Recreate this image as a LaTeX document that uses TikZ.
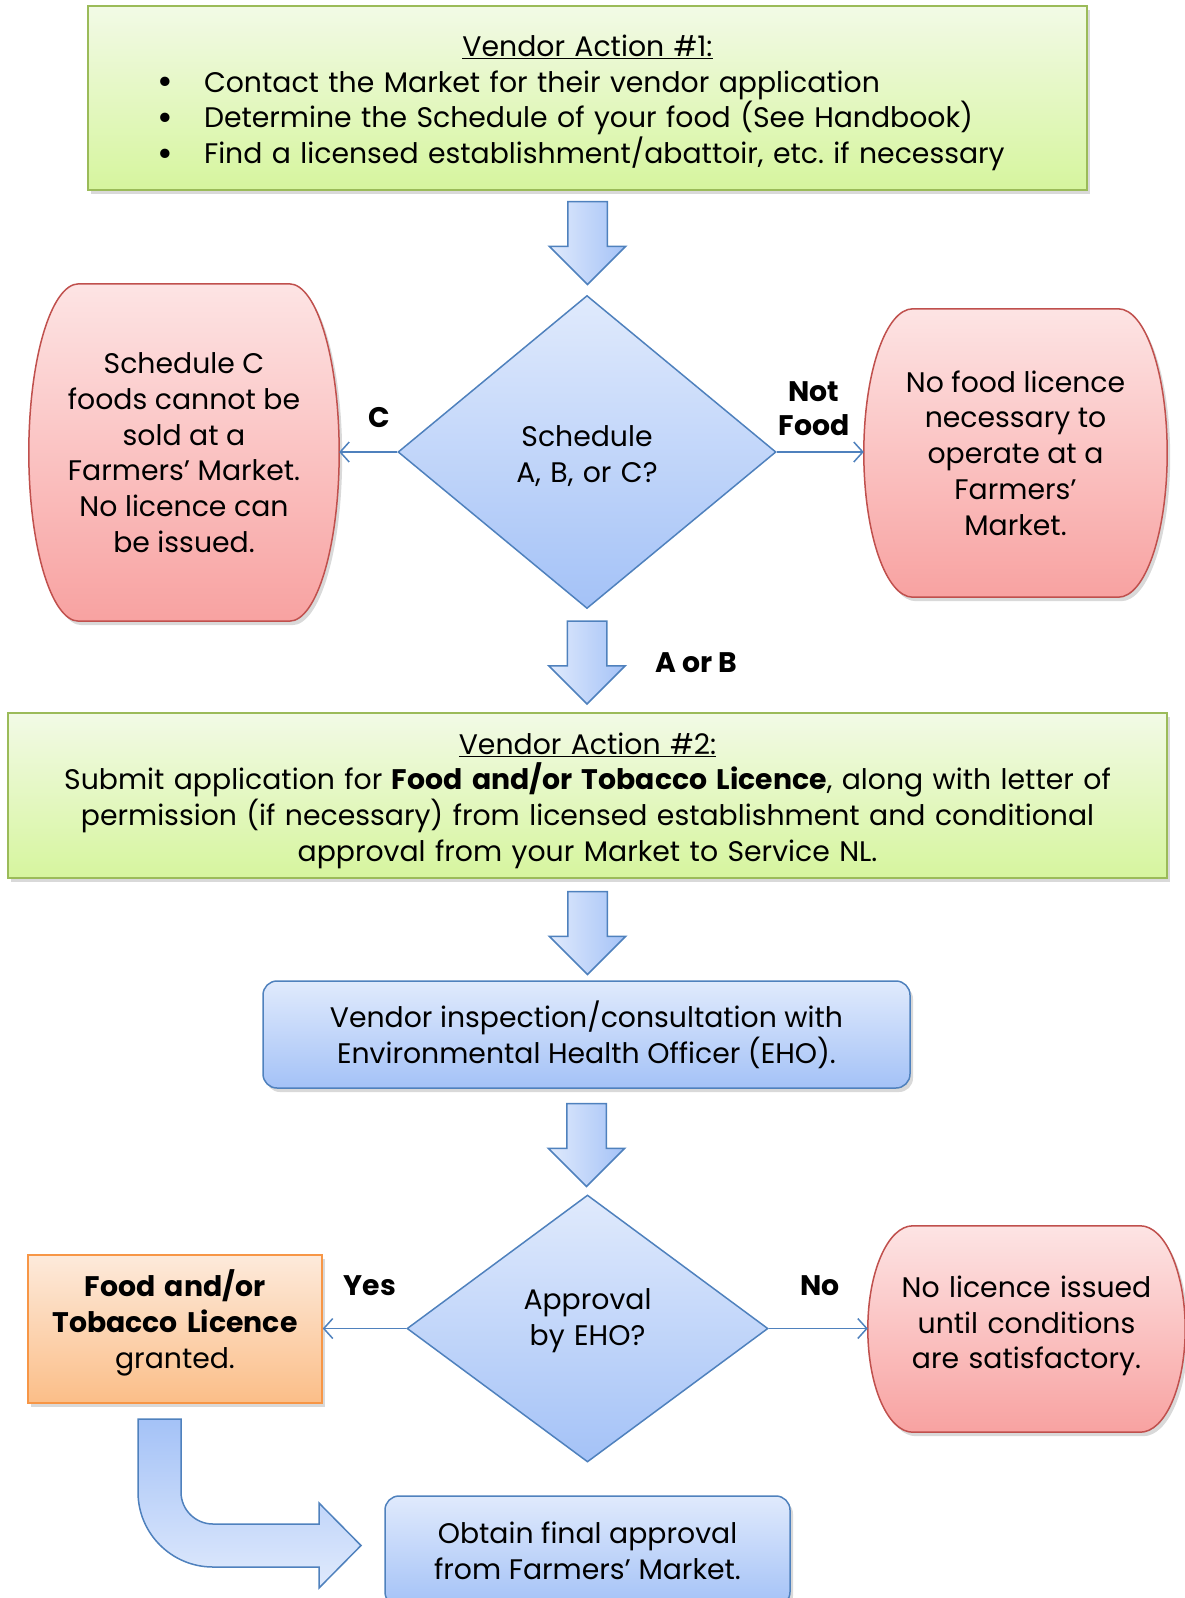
\documentclass[tikz,border=0pt]{standalone}
\usepackage{fontspec}
\setmainfont{Poppins}
\usetikzlibrary{shapes.geometric,shapes.arrows,arrows.meta,calc,shadows,backgrounds}
\definecolor{greenline}{HTML}{9BBB59}
\definecolor{greentop}{HTML}{F2FAE6}
\definecolor{greenbot}{HTML}{D6F59E}
\definecolor{blueline}{HTML}{4F81BD}
\definecolor{bluetop}{HTML}{E0EAFC}
\definecolor{bluebot}{HTML}{A4C2F7}
\definecolor{redline}{HTML}{C0504D}
\definecolor{redtop}{HTML}{FDE4E4}
\definecolor{redbot}{HTML}{F8A2A1}
\definecolor{orangeline}{HTML}{F79646}
\definecolor{orangetop}{HTML}{FDEADB}
\definecolor{orangebot}{HTML}{FBBE88}
\setlength{\lineskiplimit}{-20pt}
\newcommand\vendoritem{\makebox[47pt][l]{\raisebox{-2.5pt}{\fontsize{38}{38}\selectfont\textbullet}}}

\begin{document}
\begin{tikzpicture}[x=1pt,y=-1pt,
		every node/.style={font=\fontsize{28.3}{35.7}\selectfont,align=center,inner sep=0pt},
		softshadow/.style={drop shadow={shadow xshift=3pt,shadow yshift=-4pt,opacity=0.3}},
		action/.style={rectangle,draw=greenline,line width=1.5pt,top color=greentop,bottom color=greenbot,softshadow},
		decision/.style={diamond,draw=blueline,line width=1.5pt,top color=bluetop,bottom color=bluebot},
		process/.style={rectangle,rounded corners=14pt,draw=blueline,line width=1.5pt,top color=bluetop,bottom color=bluebot,softshadow},
		granted/.style={rectangle,draw=orangeline,line width=1.5pt,top color=orangetop,bottom color=orangebot,softshadow},
		nogo/.style={rectangle},
		nogoshape/.style={draw=redline,line width=1.5pt,top color=redtop,bottom color=redbot,softshadow},
		blockarrow/.style={single arrow,rotate=-90,anchor=tail,draw=blueline,line width=1.5pt,left color=bluetop,right color=bluebot,minimum height=83pt,minimum width=75pt,inner xsep=0pt,inner ysep=19pt,single arrow head extend=18.5pt},
		branch/.style={draw=blueline,line width=1.5pt,-{Straight Barb[length=9pt,width=20pt]}},
		choice/.style={font=\fontsize{28.3}{34}\selectfont\bfseries}]
	\useasboundingbox (0,0) rectangle (1185,1598);
	\node[action,minimum width=999pt,minimum height=184pt,text width=861pt,align=left] (va1) at (587.5,98) {\centerline{\underline{Vendor Action \#1:}}
		\noindent\vendoritem Contact the Market for their vendor application\\
		\vendoritem Determine the Schedule of your food (See Handbook)\\
		\vendoritem Find a licensed establishment/abattoir, etc.\ if necessary\vspace*{-10pt}};
	\node[decision,minimum width=378pt,minimum height=313pt,aspect=1.21,text width=200pt] (sched) at (587,452) {Schedule\\A, B, or C?\vspace*{-8pt}};
	\node[nogo,minimum width=310pt,minimum height=337pt] (schedc) at (184,452.5) {Schedule C\\foods cannot be\\sold at a\\Farmers’ Market.\\No licence can\\be issued.};
	\node[nogo,minimum width=303pt,minimum height=288pt] (nofood) at (1015.5,453) {No food licence\\necessary to\\operate at a\\Farmers’\\Market.};
	\node[action,minimum width=1159pt,minimum height=165pt,text width=1100pt] (va2) at (587.5,795.5) {\underline{Vendor Action \#2:}\\
		Submit application for \textbf{Food and/or Tobacco Licence}, along with letter of\\
		permission (if necessary) from licensed establishment and conditional\\
		approval from your Market to Service NL.\vspace*{-10pt}};
	\node[process,minimum width=647pt,minimum height=107pt] (insp) at (586.5,1034.5) {Vendor inspection/consultation with\\Environmental Health Officer (EHO).};
	\node[decision,minimum width=361pt,minimum height=267pt,aspect=1.35,text width=200pt] (eho) at (587.5,1328.5) {Approval\\by EHO?\vspace*{16pt}};
	\node[granted,minimum width=294pt,minimum height=148pt,text width=290pt] (lic) at (175,1329) {\textbf{Food and/or}\\\textbf{Tobacco Licence}\\granted.\vspace*{12pt}};
	\node[nogo,minimum width=317pt,minimum height=206pt,text width=310pt] (nolic) at (1026.5,1329) {No licence issued\\until conditions\\are satisfactory.\vspace*{6pt}};
	\node[process,minimum width=405pt,minimum height=110pt] (final) at (587.5,1551) {Obtain final approval\\from Farmers’ Market.};
	\begin{pgfonlayer}{background}
		\foreach \nd/\rx in {schedc/50pt,nofood/49pt,nolic/45pt}
			\path[nogoshape] let \p1=(\nd.north west),\p2=(\nd.south east),\n1={(\y1-\y2)/2} in
				(\x1+\rx,\y1) -- (\x2-\rx,\y1) arc[start angle=90,end angle=-90,x radius=\rx,y radius=\n1]
				-- (\x1+\rx,\y2) arc[start angle=270,end angle=90,x radius=\rx,y radius=\n1] -- cycle;
	\end{pgfonlayer}
	\node[blockarrow] (ar1) at ($(va1.south)+(0,10)$) {};
	\node[blockarrow] (ar2) at ($(sched.south)+(0,11)$) {};
	\node[blockarrow] (ar3) at ($(va2.south)+(0,12)$) {};
	\node[blockarrow] (ar4) at ($(insp.south)+(0,14)$) {};
	\draw[blueline,line width=1.5pt,top color=bluebot,bottom color=bluetop] (138,1419) -- (181,1419) -- (181,1492)
		arc[start angle=180,end angle=270,radius=32pt] -- (319,1524) -- (319,1503) -- (361,1545.5) -- (319,1588)
		-- (319,1567) -- (213,1567) arc[start angle=270,end angle=180,radius=75pt] -- cycle;
	\draw[branch] (sched.west) -- (sched.west -| schedc.east);
	\draw[branch] (sched.east) -- (sched.east -| nofood.west);
	\draw[branch] (eho.west) -- (eho.west -| lic.east);
	\draw[branch] (eho.east) -- (eho.east -| nolic.west);
	\node[choice] (lblc) at (379,418) {C};
	\node[choice] (lblnf) at (814,409) {Not\\Food};
	\node[choice] (lblab) at (696,663) {A or B};
	\node[choice] (lblyes) at (370,1286) {Yes};
	\node[choice] (lblno) at (820,1286) {No};
\end{tikzpicture}
\end{document}
